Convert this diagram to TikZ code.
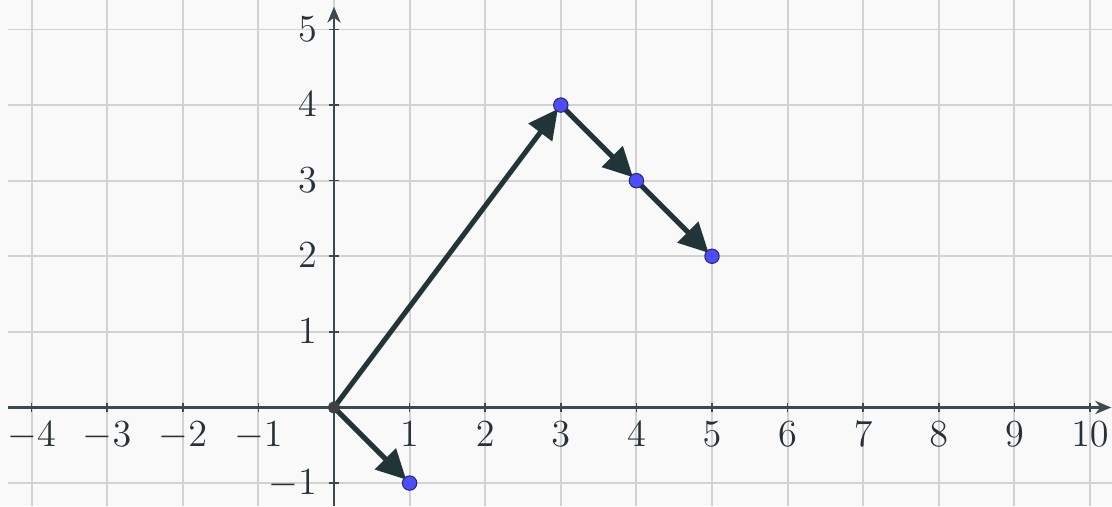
\documentclass[tikz,border=0pt]{standalone}
\usetikzlibrary{arrows.meta}
\definecolor{bg}{HTML}{F9F9F9}
\definecolor{gridc}{HTML}{D2D2D2}
\definecolor{axisc}{HTML}{3A4A4F}
\definecolor{labc}{HTML}{263238}
\definecolor{vecc}{HTML}{213438}
\definecolor{ptblue}{HTML}{4D4DFF}
\definecolor{ptedge}{HTML}{2A2A6A}
\definecolor{ptorig}{HTML}{404040}
\tikzset{
  gridline/.style={gridc, line width=0.7pt},
  axisline/.style={axisc, line width=0.8pt, -{Stealth[length=6pt,width=5pt]}},
  tickmark/.style={axisc, line width=0.6pt},
  xlab/.style={labc, anchor=base, inner sep=0pt, font=\fontsize{13.4}{16}\selectfont},
  ylab/.style={labc, anchor=base east, inner sep=0pt, font=\fontsize{13.4}{16}\selectfont},
  vec/.style={vecc, line width=1.9pt, -{Triangle[length=0.39cm,width=0.38cm]}, shorten >=1.8pt},
  bluept/.style={circle, fill=ptblue, draw=ptedge, line width=0.4pt, minimum size=0.19cm, inner sep=0pt},
  origpt/.style={circle, fill=ptorig, draw=ptorig, line width=0.4pt, minimum size=0.15cm, inner sep=0pt}
}
\begin{document}
\begin{tikzpicture}[x=1cm,y=1cm]
\useasboundingbox (-4.418,-1.308) rectangle (10.291,5.39);
\fill[bg] (-4.418,-1.308) rectangle (10.291,5.39);
% grid
\foreach \x in {-4,...,10} \draw[gridline] (\x,-1.308) -- (\x,5.39);
\foreach \y in {-1,...,5} \draw[gridline] (-4.31,\y) -- (10.291,\y);
% axes
\draw[axisline] (-4.31,0) -- (10.28,0);
\draw[axisline] (0,-1.308) -- (0,5.30);
% ticks and labels
\foreach \x in {-4,-3,-2,-1,1,2,3,4,5,6,7,8,9,10} {
  \draw[tickmark] (\x,-0.06) -- (\x,0.06);
  \node[xlab] at (\x,-0.52) {$\x$};
}
\foreach \y in {-1,1,2,3,4,5} {
  \draw[tickmark] (-0.07,\y) -- (0.07,\y);
  \node[ylab] at (-0.22,\y-0.155) {$\y$};
}
% points
\coordinate (O) at (0,0);
\coordinate (A) at (3,4);
\coordinate (B) at (4,3);
\coordinate (C) at (5,2);
\coordinate (D) at (1,-1);
% vectors
\draw[vec] (O) -- (A);
\draw[vec] (A) -- (B);
\draw[vec] (B) -- (C);
\draw[vec] (O) -- (D);
\node[origpt] (o) at (O) {};
\node[bluept] (a) at (A) {};
\node[bluept] (b) at (B) {};
\node[bluept] (c) at (C) {};
\node[bluept] (d) at (D) {};
\end{tikzpicture}
\end{document}
